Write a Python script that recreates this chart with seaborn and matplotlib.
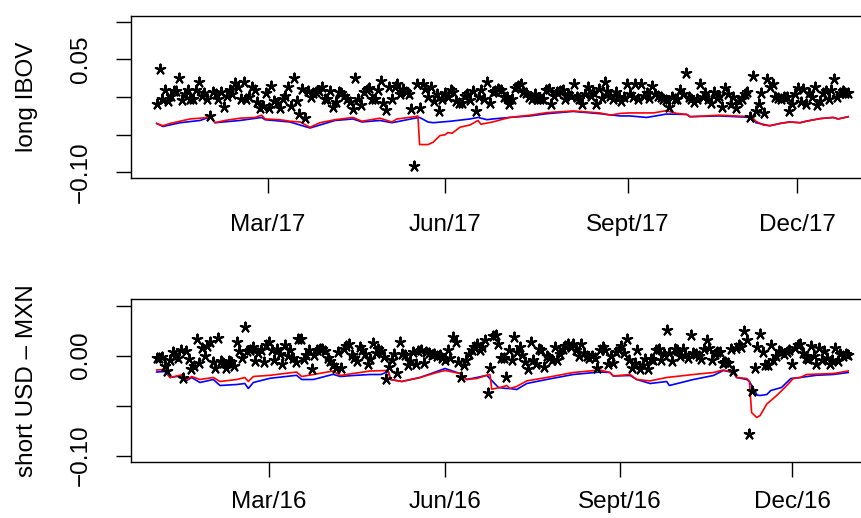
import numpy as np
import pandas as pd
import matplotlib
matplotlib.use("Agg")
import matplotlib.pyplot as plt
import seaborn as sns

# ---------------- data ----------------
panel_labels = ["long IBOV", "short USD \u2013 MXN"]
top_tick_labels = ["Mar/17", "Jun/17", "Sept/17", "Dec/17"]
bot_tick_labels = ["Mar/16", "Jun/16", "Sept/16", "Dec/16"]

# daily returns (stars), long IBOV 2017
ibov_returns = [
    -0.0097, 0.037, -0.003, 0.009, -0.005, 0.001, 0.008, 0.008, 0.025, -0.004,
    0.0035, 0.009, -0.002, -0.002, 0.010, 0.020, 0.002, 0.006, -0.002, -0.025,
    0.0066, 0.0035, -0.003, 0.0066, -0.0136, 0.002, 0.010, 0.0035, 0.019, 0.014,
    -0.003, 0.020, -0.002, -0.0005, 0.013, 0.009, -0.0066, -0.015, -0.012, 0.006,
    -0.015, 0.015, -0.005, -0.008, -0.015, -0.002, 0.001, 0.014, -0.012, 0.025,
    -0.005, -0.023, 0.011, -0.028, 0.008, 0.0005, 0.006, 0.0066, 0.008, 0.014,
    -0.003, -0.003, 0.008, -0.0136, -0.007, 0.0066, 0.006, 0.001, -0.003, -0.0066,
    -0.016, 0.025, -0.002, -0.011, 0.0066, 0.010,
    0.012, -0.002, -0.003, 0.010, 0.021, -0.008, -0.017, 0.0136, -0.002, 0.0136,
    0.017, 0.0035, 0.011, 0.0066, 0.0035, -0.016, -0.091, 0.018, -0.015, 0.018,
    0.011, 0.0005, 0.0136, -0.005, 0.0035, -0.018, -0.003, 0.005, 0.0005, 0.009,
    0.0066, -0.005, -0.0074, -0.008, 0.002, 0.0035, -0.004, 0.008, -0.018, 0.0005,
    0.009, -0.002, 0.020, -0.0074, 0.0066, 0.008, 0.011, 0.009, 0.0005, 0.0005,
    -0.0096, -0.002, 0.012, 0.015, 0.017, 0.0066, 0.006, 0.0005, -0.003, 0.0035,
    -0.002, -0.003, -0.003, 0.010, 0.011, -0.0096, 0.002, 0.0066, 0.008, 0.010,
    -0.002, 0.0035, 0.002, 0.017, 0.0005, -0.002, -0.0096, 0.0035, 0.0136, 0.002,
    0.0066, -0.0096, 0.011, -0.001, 0.020, 0.008,
    0.002, -0.002, 0.0066, 0.0005, -0.005, 0.0005, 0.017, 0.0035, 0.0005, 0.018,
    -0.002, 0.018, 0.002, 0.006, -0.001, 0.015, 0.0035, 0.002, 0.0005, -0.002,
    -0.004, -0.0126, 0.0005, -0.003, -0.003, 0.010, 0.0035, 0.032, 0.0005, -0.002,
    -0.0066, -0.003, 0.017, 0.0005, 0.006, -0.002, -0.008, 0.0066, -0.001, 0.002,
    -0.0126, 0.012, 0.0035, -0.0096, 0.0005, -0.015, -0.005, -0.002, 0.0035, 0.0066,
    -0.026, 0.028, -0.018, -0.0096, 0.005, -0.0216, 0.024, 0.0136, 0.018, 0.0005,
    -0.001, -0.003, 0.0005, 0.0005, -0.018, -0.0096, 0.0035, 0.012, -0.0066, 0.011,
    -0.0096, 0.006, 0.0005, 0.0136, -0.011, -0.005, 0.005, 0.008, -0.003, 0.010,
    0.024, 0.0005, 0.006, 0.008, 0.005, 0.005,
]

# VaR lines, long IBOV (trading-day index, value)
ibov_red_day = [0, 2.2, 4.75, 8.3, 11.9, 15.5, 18, 19.3, 20.8, 24.4, 29.75, 35.1, 37.5, 38.7,
                44, 47.6, 51.2, 54.75, 58.3, 63.7, 70.1, 73.3, 79.75, 84, 85.8, 92.2, 93.3,
                93.9, 96.9, 98.7, 101.2, 103, 104, 105.5, 108.3, 111.9, 114.75, 115.8, 120,
                126, 133.3, 139.4, 148.7, 158.3, 162, 165.6, 169, 177.4, 182, 185.7, 189.3,
                190.5, 201, 212.5, 214, 216.6, 219, 222.6, 226, 229.8, 232, 237, 241.6,
                243.4, 247]
ibov_red_var = [-0.035, -0.038, -0.035, -0.032, -0.029, -0.028, -0.027, -0.024, -0.034, -0.031,
                -0.028, -0.027, -0.024, -0.029, -0.030, -0.032, -0.033, -0.040, -0.034, -0.030,
                -0.027, -0.032, -0.028, -0.033, -0.029, -0.026, -0.025, -0.063, -0.063, -0.060,
                -0.051, -0.050, -0.047, -0.048, -0.040, -0.037, -0.031, -0.036, -0.033, -0.027,
                -0.024, -0.0206, -0.0184, -0.021, -0.024, -0.0216, -0.021, -0.021, -0.018,
                -0.0216, -0.023, -0.026, -0.024, -0.026, -0.032, -0.037, -0.038, -0.035,
                -0.033, -0.034, -0.032, -0.0285, -0.027, -0.029, -0.026]
ibov_blue_day = [0, 2.2, 8.3, 15.5, 19.3, 20.8, 29.75, 37.5, 38.7, 47.6, 54.75, 63.7, 70.1,
                 73.3, 79.75, 84, 92.2, 93.9, 96.9, 98.7, 105, 111.9, 114.75, 118, 120, 126,
                 133.3, 139.4, 148.7, 158.3, 165.6, 169, 175, 179.8, 182, 189.3, 190.5, 201,
                 212.5, 214, 219, 222.6, 226, 229.8, 232, 237, 241.6, 243.4, 247]
ibov_blue_var = [-0.035, -0.039, -0.034, -0.031, -0.026, -0.034, -0.031, -0.027, -0.030, -0.033,
                 -0.041, -0.031, -0.029, -0.033, -0.031, -0.034, -0.028, -0.027, -0.033, -0.034,
                 -0.032, -0.029, -0.027, -0.030, -0.029, -0.027, -0.025, -0.022, -0.019, -0.022,
                 -0.025, -0.025, -0.027, -0.024, -0.0225, -0.023, -0.026, -0.025, -0.027, -0.034,
                 -0.038, -0.035, -0.033, -0.034, -0.032, -0.0285, -0.027, -0.029, -0.026]

# daily returns (stars), short USD-MXN 2016
mxn_returns = [
    -0.0023, -0.0023, -0.0017, -0.0106, -0.0155, -0.0046, 0.0033, 0.0, -0.0023, 0.0053,
    -0.022, 0.0043, -0.0033, -0.0132, -0.0106, 0.0165, -0.0079, 0.0076, 0.0, 0.0099,
    0.0132, -0.0066, -0.0122, 0.0175, -0.0056, -0.0079, -0.0122, -0.0056, -0.0066, -0.0106,
    0.0132, 0.0043, -0.0023, 0.0284, 0.0043, 0.0059, 0.0086, -0.0056, 0.0026, 0.0059,
    -0.0066, 0.0109, 0.0132, 0.0053, -0.0046, 0.0066, 0.002, -0.0089, 0.0109, -0.0007,
    0.0059, -0.0023, -0.0066, 0.0165, 0.0165, -0.0033, 0.001, 0.0059, -0.0139, 0.001,
    0.0053, 0.0066, 0.0066, 0.0043, -0.0023, -0.0056, -0.0099, -0.0122, 0.0033, -0.0122,
    0.0066, 0.0099, 0.0119, 0.001, -0.0023, -0.0056, 0.0086, 0.0053, 0.002, -0.0089,
    -0.0033, 0.0125, 0.0026, 0.0066, 0.0043, -0.0013, -0.023, -0.0112, -0.004, 0.002,
    -0.0172, 0.0132, 0.002, 0.001, -0.0099, -0.0056, 0.0033, -0.0089, 0.0043, 0.0053,
    -0.0079, 0.0033, 0.0026, 0.001, 0.002, 0.0, 0.001, -0.0023, -0.0046, 0.0059,
    -0.0023, 0.0185, 0.0132, -0.0066, -0.0211, -0.0099, -0.0046, 0.002, 0.0059, 0.0086,
    0.0119, 0.0053, 0.0086, 0.0152, -0.037, -0.0122, 0.0198, 0.0208, 0.0119, -0.0023,
    -0.0023, -0.0211, 0.0053, -0.0046, 0.0185, 0.0033, 0.0086, 0.001, -0.0066, -0.0132,
    0.0132, -0.0046, -0.0089, 0.0066, 0.0053, -0.0112, 0.0, -0.0023, -0.0046, 0.0086,
    -0.0046, 0.002, 0.0066, 0.0099, 0.0119, 0.0086, 0.0119, 0.0053, 0.0, 0.0119,
    0.0026, 0.0, -0.0023, -0.0007, -0.0023, -0.0122, 0.0059, 0.0086, 0.0053, -0.0089,
    -0.0007, -0.0079, 0.0033, 0.0053, 0.0099, 0.0026, 0.0165, -0.0046, -0.0122, -0.0079,
    0.0059, -0.0132, -0.0099, -0.0033, -0.0132, -0.0033, -0.0046, 0.0053, 0.0066, -0.0046,
    0.002, 0.0257, 0.0026, -0.0056, 0.0066, 0.0053, -0.0007, 0.0066, 0.001, -0.0023,
    0.0208, 0.0026, 0.002, 0.0, -0.0033, 0.0066, 0.0152, 0.0076, -0.0046, 0.002,
    0.0033, 0.0033, -0.0079, -0.0066, -0.0079, 0.0066, -0.0155, 0.0076, 0.0109, 0.0086,
    0.0241, 0.0152, -0.0782, -0.0353, -0.0122, 0.0086, 0.0218, 0.0033, -0.0099, -0.0099,
    0.0109, -0.0046, -0.0007, 0.0043, 0.0033, 0.002, 0.0033, 0.0053, -0.0089, 0.0076,
    0.0109, 0.0119, 0.0026, -0.0023, -0.0033, 0.0099, -0.0007, -0.0089, 0.0076, -0.0046,
    0.0043, -0.0023, -0.0089, -0.0046, 0.0076, -0.0056, 0.002, 0.0, 0.002, 0.001,
]

mxn_red_day = [0, 3.1, 5, 10, 11.2, 13.1, 16.2, 21.2, 23.7, 30, 33, 34.3, 36.2, 42.4, 52.4,
               54.3, 58.7, 66.1, 68.7, 73.6, 79.9, 86.7, 87.6, 91.8, 98.6, 104.9, 108, 113.6,
               116.1, 119.9, 123.6, 124.8, 125.5, 128.6, 131.1, 132.3, 134.8, 138.6, 146, 156,
               166, 169.8, 171, 177.3, 179.8, 184.8, 191, 201, 208.5, 212.2, 216, 217.2, 221,
               222, 222.8, 224.7, 226, 228.5, 232.2, 236, 238.4, 241, 243.4, 253.4, 259]
mxn_red_var = [-0.0145, -0.014, -0.022, -0.019, -0.0244, -0.021, -0.024, -0.022, -0.026, -0.024,
               -0.022, -0.026, -0.021, -0.0198, -0.0165, -0.021, -0.019, -0.0155, -0.020, -0.018,
               -0.0155, -0.015, -0.024, -0.026, -0.022, -0.017, -0.015, -0.018, -0.024, -0.023,
               -0.0198, -0.019, -0.0337, -0.032, -0.030, -0.033, -0.031, -0.0254, -0.022, -0.017,
               -0.0145, -0.017, -0.0205, -0.019, -0.024, -0.0254, -0.022, -0.019, -0.017, -0.0145,
               -0.017, -0.022, -0.023, -0.026, -0.057, -0.062, -0.060, -0.0485, -0.040, -0.030,
               -0.023, -0.022, -0.019, -0.018, -0.0155]
mxn_blue_day = [0, 3.1, 5, 10, 11.2, 13.1, 16.2, 21.2, 23.7, 30, 33, 34.3, 36.2, 42.4, 52.4,
                54.3, 58.7, 66.1, 68.7, 73.6, 79.9, 84, 86.7, 87.6, 91.8, 98.6, 104.9, 108,
                113.6, 116.1, 119.9, 123.6, 128, 131.1, 132.3, 134.8, 138.6, 146, 156, 166,
                169.8, 171, 177.3, 179.8, 184.8, 191, 192, 201, 208.5, 212.2, 216, 217.2, 221,
                222, 224.9, 226, 228.5, 230, 234, 237.5, 241, 247, 253.4, 259]
mxn_blue_var = [-0.0165, -0.016, -0.022, -0.020, -0.025, -0.022, -0.027, -0.024, -0.030, -0.029,
                -0.028, -0.033, -0.027, -0.0228, -0.0198, -0.024, -0.024, -0.0188, -0.021, -0.020,
                -0.019, -0.019, -0.016, -0.024, -0.026, -0.022, -0.016, -0.013, -0.018, -0.024,
                -0.022, -0.0198, -0.032, -0.033, -0.033, -0.034, -0.028, -0.024, -0.019, -0.0165,
                -0.017, -0.0205, -0.020, -0.024, -0.028, -0.026, -0.030, -0.024, -0.020, -0.015,
                -0.017, -0.022, -0.024, -0.026, -0.0396, -0.040, -0.039, -0.035, -0.032, -0.023,
                -0.022, -0.0198, -0.019, -0.017]

# ---------------- layout / style ----------------
W, H = 862, 518
FS = 17.5
fig = plt.figure(figsize=(W / 100, H / 100), dpi=100)
FONT = ["Liberation Sans", "DejaVu Sans"]
plt.rcParams["font.family"] = FONT


def px_axes(left, right, top, bottom):
    return fig.add_axes([left / W, 1 - bottom / H, (right - left) / W, (bottom - top) / H])


panels = [
    dict(rect=(130.7, 874, 15.7, 178.5), ret=ibov_returns, rd=ibov_red_day, rv=ibov_red_var,
         bd=ibov_blue_day, bv=ibov_blue_var, xlim=(-9.29, 256.2), ylim=(-0.108, 0.108),
         yticks=[0.10, 0.05, 0.0, -0.05, -0.10], ylabs=["", "0.05", "", "", "\u22120.10"],
         xticks=[39.75, 103, 168.3, 228.7], xlabs=top_tick_labels, label=panel_labels[0],
         xpad=15),
    dict(rect=(130.7, 874, 299, 462), ret=mxn_returns, rd=mxn_red_day, rv=mxn_red_var,
         bd=mxn_blue_day, bv=mxn_blue_var, xlim=(-9.74, 268.65), ylim=(-0.1065, 0.0565),
         yticks=[0.05, 0.0, -0.05, -0.10], ylabs=["", "0.00", "", "\u22120.10"],
         xticks=[42, 108, 173.5, 238], xlabs=bot_tick_labels, label=panel_labels[1],
         xpad=10),
]

for p in panels:
    l, r, t, b = p["rect"]
    ax = px_axes(l, r, t, b)
    df = pd.DataFrame({"day": np.arange(len(p["ret"])), "ret": p["ret"]})
    red = pd.DataFrame({"day": p["rd"], "var": p["rv"]})
    blue = pd.DataFrame({"day": p["bd"], "var": p["bv"]})
    sns.scatterplot(data=df, x="day", y="ret", ax=ax, marker=(5, 2, 0), s=50,
                    color="black", edgecolor="black", linewidth=1.5, zorder=3)
    sns.lineplot(data=blue, x="day", y="var", ax=ax, color="#0000FF", linewidth=1.2,
                 estimator=None, sort=False, zorder=2)
    sns.lineplot(data=red, x="day", y="var", ax=ax, color="#FF0000", linewidth=1.2,
                 estimator=None, sort=False, zorder=2)
    ax.set_xlim(*p["xlim"])
    ax.set_ylim(*p["ylim"])
    ax.set_xticks(p["xticks"])
    ax.set_xticklabels(p["xlabs"], fontsize=FS, family=FONT)
    ax.set_yticks(p["yticks"])
    ax.set_yticklabels(p["ylabs"], fontsize=FS, family=FONT, rotation=90, va="center")
    ax.tick_params(axis="both", direction="out", length=10.8, width=1.0, color="black")
    ax.tick_params(axis="x", pad=p["xpad"])
    ax.tick_params(axis="y", pad=17)
    ax.set_xlabel("")
    ax.set_ylabel("")
    for s in ax.spines.values():
        s.set_linewidth(1.0)
        s.set_color("black")
    fig.text(27 / W, 1 - ((t + b) / 2) / H, p["label"], rotation=90, ha="center",
             va="center", fontsize=FS, family=FONT)

fig.savefig("out.png", dpi=100)
